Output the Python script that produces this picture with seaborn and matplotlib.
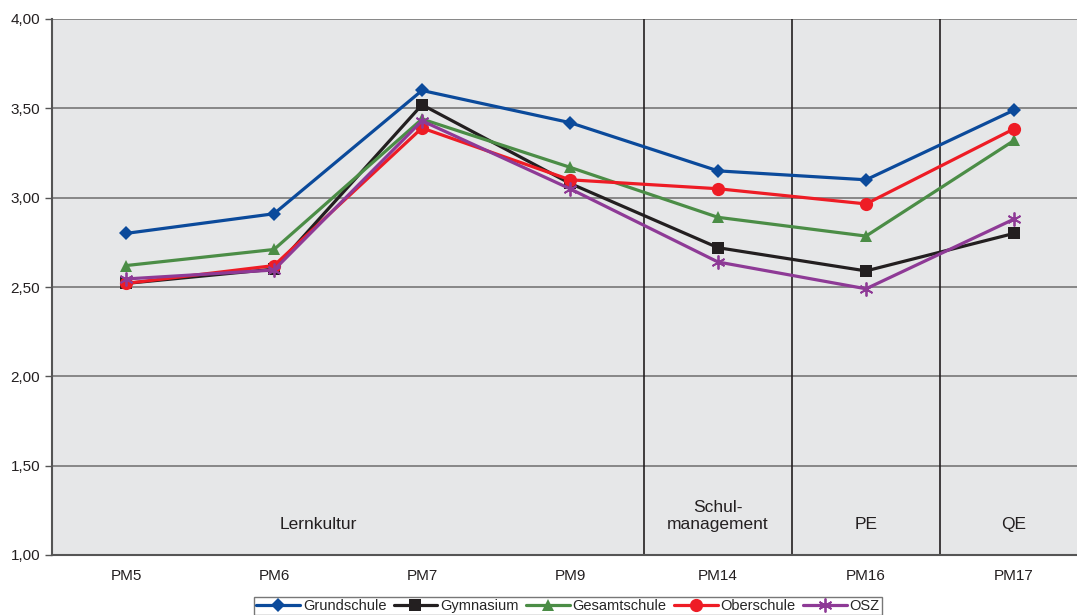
import pandas as pd
import seaborn as sns
import matplotlib.pyplot as plt

# Data
categories = ['PM5', 'PM6', 'PM7', 'PM9', 'PM14', 'PM16', 'PM17']
grundschule = [2.80, 2.91, 3.60, 3.42, 3.15, 3.10, 3.49]
gymnasium = [2.52, 2.60, 3.52, 3.08, 2.72, 2.59, 2.80]
gesamtschule = [2.62, 2.71, 3.44, 3.17, 2.89, 2.785, 3.32]
oberschule = [2.52, 2.62, 3.39, 3.10, 3.05, 2.965, 3.385]
osz = [2.545, 2.595, 3.43, 3.05, 2.64, 2.49, 2.88]

series = {
    'Grundschule': grundschule,
    'Gymnasium': gymnasium,
    'Gesamtschule': gesamtschule,
    'Oberschule': oberschule,
    'OSZ': osz,
}
sections = ['Lernkultur', 'Schul-\nmanagement', 'PE', 'QE']
section_pos = [1.3, 4, 5, 6]
dividers = [3.5, 4.5, 5.5]

rows = []
for name, vals in series.items():
    for i, v in enumerate(vals):
        rows.append({'pos': i, 'Schulform': name, 'Wert': v})
df = pd.DataFrame(rows)

colors = {'Grundschule': '#0b4a9b', 'Gymnasium': '#231f20', 'Gesamtschule': '#4b8d46',
          'Oberschule': '#ee1c25', 'OSZ': '#8e3a96'}
markers = {'Grundschule': 'D', 'Gymnasium': 's', 'Gesamtschule': '^',
           'Oberschule': 'o', 'OSZ': (6, 2, 0)}
msize = {'Grundschule': 7.5, 'Gymnasium': 8.5, 'Gesamtschule': 9, 'Oberschule': 9.5, 'OSZ': 10}

sns.set_style('white')
plt.rcParams['font.family'] = ['Liberation Sans', 'DejaVu Sans']

fig = plt.figure(figsize=(10.77, 6.15), dpi=100)
W, H = 1077, 615
ax = fig.add_axes([52 / W, 1 - 555 / H, 1036 / W, (555 - 19) / H])
ax.set_facecolor('#e6e7e8')

for name in series:
    sub = df[df['Schulform'] == name]
    sns.lineplot(data=sub, x='pos', y='Wert', ax=ax, color=colors[name], lw=2.3,
                 marker=markers[name], markersize=msize[name], markeredgecolor=colors[name],
                 markeredgewidth=1.3 if name == 'OSZ' else 0, label=name, zorder=3)

ax.set_xlim(-0.5, 6.5)
ax.set_ylim(1, 4)
ax.set_yticks([1, 1.5, 2, 2.5, 3, 3.5, 4])
ax.set_yticklabels([f'{t:.2f}'.replace('.', ',') for t in ax.get_yticks()])
ax.yaxis.grid(True, color='#7f7f7f', lw=1.3)
ax.set_axisbelow(True)
ax.set_xticks(range(len(categories)))
ax.set_xticklabels(categories)
ax.set_xticks([i + 0.5 for i in range(-1, len(categories))], minor=True)
ax.tick_params(axis='x', which='major', length=0, pad=10, labelsize=11, colors='#231f20')
ax.tick_params(axis='x', which='minor', length=5, width=1, color='#555555', direction='out')
ax.tick_params(axis='y', length=5, width=1, color='#555555', direction='out', labelsize=11,
               labelcolor='#231f20', left=True)
ax.set_xlabel('')
ax.set_ylabel('')

for s in ['top', 'right']:
    ax.spines[s].set_visible(False)
for s in ['left', 'bottom']:
    ax.spines[s].set_color('#555555')
    ax.spines[s].set_linewidth(1.5)

for d in dividers:
    ax.axvline(d, color='#231f20', lw=1.2, zorder=2)

for lab, p in zip(sections, section_pos):
    ax.text(p, 1.13, lab, ha='center', va='bottom', fontsize=12.5, color='#231f20',
            linespacing=1.15)

leg = ax.legend(loc='center', bbox_to_anchor=(568 / W, 1 - 606 / H), bbox_transform=fig.transFigure,
                ncol=5, frameon=True, fontsize=10.5, handlelength=3.0, handletextpad=0.2,
                columnspacing=0.5, borderpad=0.15, fancybox=False)
leg.get_frame().set_edgecolor('#555555')
leg.get_frame().set_linewidth(1.0)

plt.savefig('out.png', dpi=100)
